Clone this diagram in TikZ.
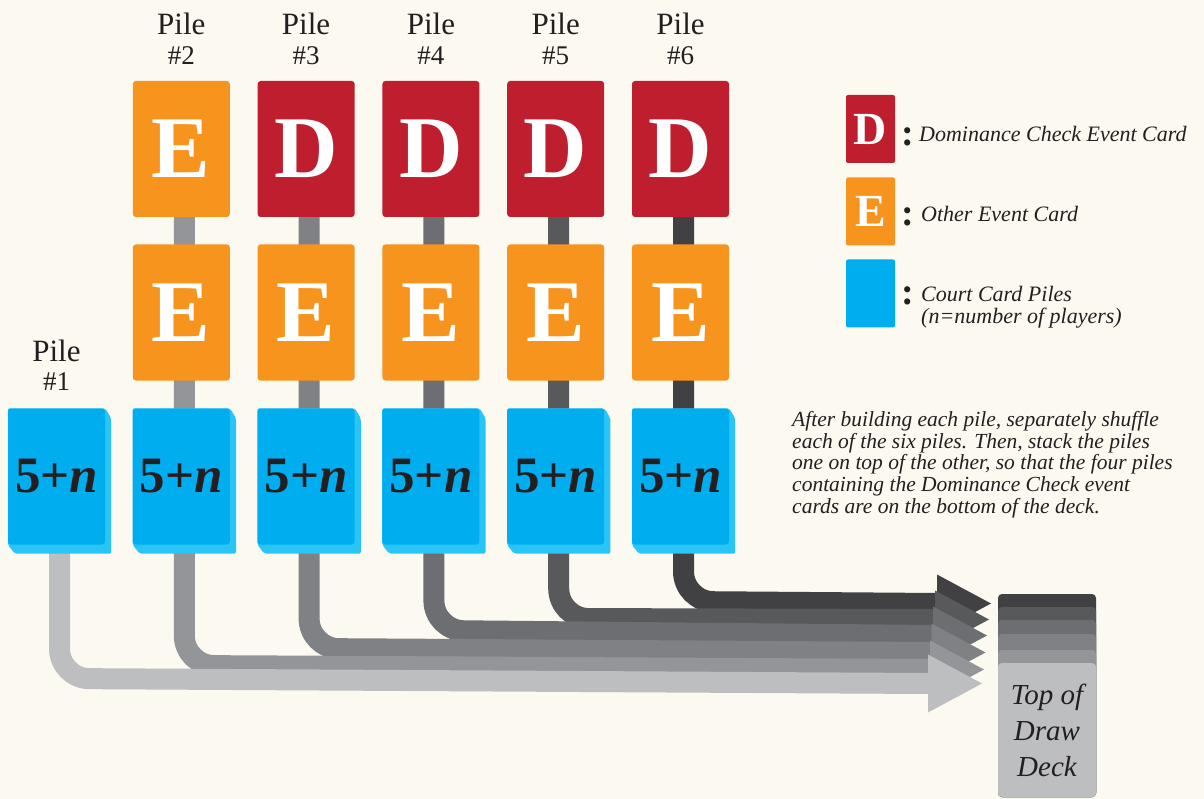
\documentclass[tikz,border=0pt]{standalone}
\usepackage{fontspec}
\setmainfont{Liberation Serif}
\usetikzlibrary{calc}
\definecolor{bgc}{RGB}{251,249,240}
\definecolor{redc}{RGB}{190,30,45}
\definecolor{orc}{RGB}{247,148,30}
\definecolor{bluec}{RGB}{0,174,239}
\definecolor{blues}{RGB}{41,197,246}
\definecolor{g1}{RGB}{188,190,192}
\definecolor{g2}{RGB}{147,149,152}
\definecolor{g3}{RGB}{128,129,132}
\definecolor{g4}{RGB}{109,110,113}
\definecolor{g5}{RGB}{88,89,91}
\definecolor{g6}{RGB}{65,64,66}
\definecolor{ink}{RGB}{35,31,32}
\pgfdeclarelayer{bg}\pgfdeclarelayer{lines}\pgfdeclarelayer{shadow}
\pgfsetlayers{bg,lines,shadow,main}
\begin{document}
\begin{tikzpicture}[x=1pt,y=-1pt,
 card/.style={rectangle, rounded corners=3pt, minimum width=97pt, minimum height=136pt, inner sep=0pt, text=white, font=\fontsize{88}{88}\selectfont\bfseries},
 dcard/.style={card, fill=redc},
 ecard/.style={card, fill=orc},
 ccard/.style={card, fill=bluec, text=ink, font=\fontsize{51}{51}\selectfont\bfseries},
 lcard/.style={minimum width=49pt, minimum height=68pt, rounded corners=2pt, font=\fontsize{46}{46}\selectfont\bfseries},
 pipe/.style={line width=21pt, rounded corners=30pt, draw=#1},
 plabel/.style={font=\fontsize{31}{31}\selectfont, text=ink, anchor=base, inner sep=0pt},
 nlabel/.style={font=\fontsize{27}{27}\selectfont, text=ink, anchor=base, inner sep=0pt},
 colon/.style={font=\fontsize{38}{38}\selectfont\bfseries, text=ink, anchor=base, inner sep=0pt},
 legtext/.style={font=\fontsize{22}{22}\selectfont\itshape, text=ink, anchor=base west, inner sep=0pt},
 stripe/.style={rounded corners=4pt}
]
\useasboundingbox (0,0) rectangle (1204,799);
\begin{pgfonlayer}{bg}
\fill[bgc] (0,0) rectangle (1204,799);
\end{pgfonlayer}

% pile labels
\node[plabel] (pl1) at (56.5,362) {Pile};
\node[nlabel] (pn1) at (56.5,390) {\#1};
\node[plabel] (pl2) at (181.3,35) {Pile};
\node[nlabel] (pn2) at (181.3,65) {\#2};
\node[plabel] (pl3) at (306.1,35) {Pile};
\node[nlabel] (pn3) at (306.1,65) {\#3};
\node[plabel] (pl4) at (430.9,35) {Pile};
\node[nlabel] (pn4) at (430.9,65) {\#4};
\node[plabel] (pl5) at (555.7,35) {Pile};
\node[nlabel] (pn5) at (555.7,65) {\#5};
\node[plabel] (pl6) at (680.5,35) {Pile};
\node[nlabel] (pn6) at (680.5,65) {\#6};

% top row
\node[ecard] (t2) at (181.3,149) {E};
\node[dcard] (t3) at (306.1,149) {D};
\node[dcard] (t4) at (430.9,149) {D};
\node[dcard] (t5) at (555.7,149) {D};
\node[dcard] (t6) at (680.5,149) {D};
% middle row
\node[ecard] (m2) at (181.3,312.5) {E};
\node[ecard] (m3) at (306.1,312.5) {E};
\node[ecard] (m4) at (430.9,312.5) {E};
\node[ecard] (m5) at (555.7,312.5) {E};
\node[ecard] (m6) at (680.5,312.5) {E};
% court cards
\foreach \k/\x in {1/56.5,2/181.3,3/306.1,4/430.9,5/555.7,6/680.5}{
  \node[ccard] (c\k) at (\x,476.5) {5+\textit{n}};
}
\begin{pgfonlayer}{shadow}
\foreach \k in {1,...,6}{
  \fill[blues, rounded corners=2pt] (c\k.north west) -- (c\k.north east) -- ([shift={(6,10)}]c\k.north east) -- ([shift={(6,9)}]c\k.south east) -- ([shift={(7,9)}]c\k.south west) -- (c\k.south west) -- cycle;
}
\end{pgfonlayer}

% deck
\fill[g6, stripe] (998,594) rectangle (1096,797);
\fill[g5, stripe] (998,607) rectangle (1096,797);
\fill[g4, stripe] (998,620) rectangle (1096,797);
\fill[g3, stripe] (998,634) rectangle (1096,797);
\fill[g2, stripe] (998,650) rectangle (1096,797);
\node[fill=g1, rounded corners=4pt, minimum width=98pt, minimum height=134pt, inner sep=0pt, align=center, text=ink, font=\fontsize{29}{36}\selectfont\itshape] (deck) at (1047,730) {Top of\\Draw\\Deck};

% connectors
\coordinate (s1) at ([xshift=3pt]c1.center);
\foreach \k in {2,...,6}{ \coordinate (s\k) at ([xshift=3pt]t\k.center); }
\begin{pgfonlayer}{lines}
\foreach \k/\yl/\yr/\b/\t in {6/601.5/603.5/937/991, 5/618.5/619.5/935/989, 4/630.5/635.5/933/987, 3/648.5/652.5/931.5/985.5, 2/665.5/669.5/930/984, 1/678.5/683.5/928/982}{
  \coordinate (hl\k) at (0,\yl);
  \coordinate (a\k) at (\b,\yr);
  \coordinate (tip\k) at (\t,\yr);
  \draw[pipe=g\k] (s\k) -- (s\k |- hl\k) -- (a\k);
  \fill[g\k] ([shift={(0,-29)}]a\k) -- (tip\k) -- ([shift={(0,29)}]a\k) -- cycle;
}
\end{pgfonlayer}

% legend
\node[lcard, fill=redc, text=white] (ld) at (870.5,129) {D};
\node[lcard, fill=orc, text=white] (le) at (870.5,211.5) {E};
\node[lcard, fill=bluec] (lc) at (870.5,293.5) {};
\node[colon] (k1) at (908,146) {:};
\node[colon] (k2) at (908,226) {:};
\node[colon] (k3) at (908,305) {:};
\node[legtext] (lt1) at (919,142) {Dominance Check Event Card};
\node[legtext] (lt2) at (921,222) {Other Event Card};
\node[legtext] (lt3) at (921,302) {Court Card Piles};
\node[legtext] (lt4) at (921,323.5) {(n=number of players)};

% note
\node[anchor=north west, inner sep=0pt, align=left, text=ink, font=\fontsize{21.5}{21.7}\selectfont\itshape] (note) at (792,411) {After building each pile, separately shuffle\\each of the six piles. Then, stack the piles\\one on top of the other, so that the four piles\\containing the Dominance Check event\\cards are on the bottom of the deck.};
\end{tikzpicture}
\end{document}
